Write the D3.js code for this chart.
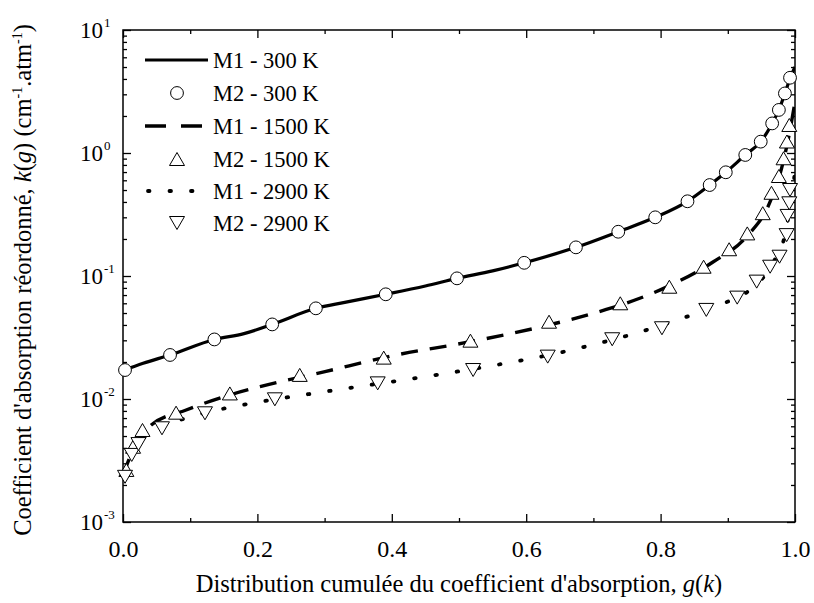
<!DOCTYPE html>
<html><head><meta charset="utf-8">
<script src="https://cdn.jsdelivr.net/npm/d3@7"></script>
<style>body{margin:0;background:#fff}svg{display:block}</style>
</head><body>
<svg id="c" width="814" height="603" font-family="'Liberation Serif', 'Times New Roman', Times, 'DejaVu Serif', serif"></svg>
<script>
// ---- data ----
const xTicks = [0.0, 0.2, 0.4, 0.6, 0.8, 1.0];
const yTicks = [1e-3, 1e-2, 1e-1, 1e0, 1e1];
const yExp = ["-3", "-2", "-1", "0", "1"];
const legendLabels = ["M1 - 300 K", "M2 - 300 K", "M1 - 1500 K", "M2 - 1500 K", "M1 - 2900 K", "M2 - 2900 K"];

const m1_300_g = [0, 0.03, 0.07, 0.136, 0.18, 0.222, 0.287, 0.33, 0.391, 0.45, 0.497, 0.55, 0.597, 0.674, 0.737, 0.792, 0.84, 0.873, 0.897, 0.926, 0.949, 0.966, 0.976, 0.985, 0.993, 1.0];
const m1_300_k = [0.0170, 0.0195, 0.0228, 0.0305, 0.0340, 0.0404, 0.0546, 0.0610, 0.0710, 0.0830, 0.0957, 0.110, 0.128, 0.171, 0.229, 0.300, 0.405, 0.549, 0.697, 0.964, 1.237, 1.74, 2.24, 3.05, 4.09, 5.0];

const m2_300_g = [0.003, 0.070, 0.136, 0.222, 0.287, 0.391, 0.497, 0.597, 0.674, 0.737, 0.792, 0.840, 0.873, 0.897, 0.926, 0.949, 0.966, 0.976, 0.985, 0.9926];
const m2_300_k = [0.0172, 0.0228, 0.0305, 0.0404, 0.0546, 0.0710, 0.0957, 0.128, 0.171, 0.229, 0.300, 0.405, 0.549, 0.697, 0.964, 1.237, 1.74, 2.24, 3.05, 4.09];

const m1_1500_g = [0, 0.015, 0.042, 0.094, 0.159, 0.204, 0.3006, 0.407, 0.509, 0.613, 0.717, 0.769, 0.826, 0.878, 0.928, 0.963, 0.98, 0.99, 1.0];
const m1_1500_k = [0.0024, 0.00385, 0.00615, 0.00814, 0.0108, 0.0126, 0.0167, 0.0228, 0.0287, 0.0376, 0.053, 0.0659, 0.090, 0.130, 0.209, 0.402, 0.75, 1.3, 2.6];

const m2_1500_g = [0.005, 0.015, 0.029, 0.079, 0.159, 0.263, 0.388, 0.517, 0.634, 0.740, 0.813, 0.864, 0.902, 0.929, 0.952, 0.965, 0.976, 0.983, 0.988, 0.9915];
const m2_1500_k = [0.00265, 0.00409, 0.0056, 0.00774, 0.0111, 0.0157, 0.0217, 0.0298, 0.0425, 0.060, 0.0818, 0.119, 0.165, 0.222, 0.324, 0.475, 0.65, 0.906, 1.24, 1.69];

const m1_2900_g = [0, 0.0074, 0.0397, 0.1016, 0.164, 0.196, 0.290, 0.416, 0.541, 0.667, 0.698, 0.759, 0.824, 0.854, 0.886, 0.93, 0.96, 0.972, 0.98, 0.99, 1.0];
const m1_2900_k = [0.0024, 0.00319, 0.00526, 0.00718, 0.00866, 0.00933, 0.01125, 0.01426, 0.0183, 0.0250, 0.0275, 0.0337, 0.0438, 0.0498, 0.058, 0.075, 0.11, 0.142, 0.17, 0.3, 0.7];

const m2_2900_g = [0.003, 0.013, 0.023, 0.058, 0.122, 0.226, 0.379, 0.521, 0.632, 0.728, 0.802, 0.868, 0.914, 0.943, 0.963, 0.977, 0.9876, 0.989, 0.9915, 0.9926];
const m2_2900_k = [0.00233, 0.00351, 0.0043, 0.00578, 0.00765, 0.00994, 0.0134, 0.0172, 0.0221, 0.0306, 0.0376, 0.053, 0.0667, 0.090, 0.119, 0.1435, 0.215, 0.308, 0.39, 0.50];

// ---- layout ----
const FONT = "'Liberation Serif', 'Times New Roman', Times, 'DejaVu Serif', serif";
const L = 123, R = 795, T = 30, B = 522;
const svg = d3.select("#c");
const x = d3.scaleLinear().domain([0, 1]).range([L, R]);
const y = d3.scaleLog().domain([1e-3, 1e1]).range([B, T]);

const zip = (gs, ks) => gs.map((g, i) => [g, ks[i]]);

svg.append("clipPath").attr("id", "clip").append("rect")
  .attr("x", L).attr("y", T).attr("width", R - L).attr("height", B - T);

const minorY = [];
for (let e = -3; e < 1; e++) for (let m = 2; m <= 9; m++) minorY.push(m * Math.pow(10, e));
const minorX = d3.range(0.1, 1, 0.2);

function styleAxis(g) {
  g.attr("font-family", FONT);
  g.select(".domain").remove();
  g.selectAll("line").attr("stroke", "#000").attr("stroke-width", 1.3);
}
// bottom
svg.append("g").attr("transform", `translate(0,${B})`)
  .call(d3.axisBottom(x).tickValues(xTicks).tickSize(-8).tickPadding(17).tickFormat(d3.format(".1f")))
  .call(styleAxis)
  .call(g => g.selectAll("text").attr("font-size", 24).attr("fill", "#000").attr("dy", null).attr("y", 35));
svg.append("g").attr("transform", `translate(0,${B})`)
  .call(d3.axisBottom(x).tickValues(minorX).tickSize(-4).tickFormat(""))
  .call(styleAxis);
// top
svg.append("g").attr("transform", `translate(0,${T})`)
  .call(d3.axisTop(x).tickValues(xTicks).tickSize(-8).tickFormat(""))
  .call(styleAxis);
svg.append("g").attr("transform", `translate(0,${T})`)
  .call(d3.axisTop(x).tickValues(minorX).tickSize(-4).tickFormat(""))
  .call(styleAxis);
// left
svg.append("g").attr("transform", `translate(${L},0)`)
  .call(d3.axisLeft(y).tickValues(yTicks).tickSize(-8).tickFormat(""))
  .call(styleAxis);
svg.append("g").attr("transform", `translate(${L},0)`)
  .call(d3.axisLeft(y).tickValues(minorY).tickSize(-4).tickFormat(""))
  .call(styleAxis);
// right
svg.append("g").attr("transform", `translate(${R},0)`)
  .call(d3.axisRight(y).tickValues(yTicks).tickSize(-8).tickFormat(""))
  .call(styleAxis);
svg.append("g").attr("transform", `translate(${R},0)`)
  .call(d3.axisRight(y).tickValues(minorY).tickSize(-4).tickFormat(""))
  .call(styleAxis);

// y tick labels 10^n
yTicks.forEach((v, i) => {
  svg.append("text").attr("x", 103).attr("y", y(v) + 8).attr("font-family", FONT)
    .attr("text-anchor", "end").attr("font-size", 23).text("10");
  svg.append("text").attr("x", 104).attr("y", y(v) - 3).attr("font-family", FONT)
    .attr("font-size", 13).text(yExp[i]);
});

// frame
svg.append("rect").attr("x", L).attr("y", T).attr("width", R - L).attr("height", B - T)
  .attr("fill", "none").attr("stroke", "#000").attr("stroke-width", 1.5);

// lines
const line = d3.line().x(d => x(d[0])).y(d => y(d[1])).curve(d3.curveMonotoneX);
const plot = svg.append("g").attr("clip-path", "url(#clip)");
const lineStyles = [
  {data: zip(m1_300_g, m1_300_k), dash: null, w: 3.2, cap: "butt"},
  {data: zip(m1_1500_g, m1_1500_k), dash: "17,12", w: 3.4, cap: "butt"},
  {data: zip(m1_2900_g, m1_2900_k), dash: "1.5,20", w: 3.8, cap: "round"}
];
lineStyles.forEach(s => {
  plot.append("path").attr("d", line(s.data)).attr("fill", "none")
    .attr("stroke", "#000").attr("stroke-width", s.w)
    .attr("stroke-dasharray", s.dash).attr("stroke-linecap", s.cap);
});

// markers
function circleM(g, cx, cy) {
  g.append("circle").attr("cx", cx).attr("cy", cy).attr("r", 6.4)
    .attr("fill", "#fff").attr("stroke", "#000").attr("stroke-width", 1);
}
function triM(g, cx, cy, up) {
  const w = 7.5, h = 6.5;
  const pts = up ? [[cx, cy - h], [cx + w, cy + h], [cx - w, cy + h]]
                 : [[cx, cy + h], [cx + w, cy - h], [cx - w, cy - h]];
  g.append("path").attr("d", "M" + pts.map(p => p.join(",")).join("L") + "Z")
    .attr("fill", "#fff").attr("stroke", "#000").attr("stroke-width", 1);
}
const mk = svg.append("g");
zip(m2_300_g, m2_300_k).forEach(d => circleM(mk, x(d[0]), y(d[1])));
zip(m2_1500_g, m2_1500_k).forEach(d => triM(mk, x(d[0]), y(d[1]), true));
zip(m2_2900_g, m2_2900_k).forEach(d => triM(mk, x(d[0]), y(d[1]), false));

// legend
const lg = svg.append("g").attr("font-family", FONT);
const rowY = [60, 93, 126, 159, 191, 223];
legendLabels.forEach((lab, i) => {
  const yy = rowY[i];
  if (i === 0) lg.append("line").attr("x1", 145).attr("x2", 208).attr("y1", yy).attr("y2", yy).attr("stroke", "#000").attr("stroke-width", 3.2);
  if (i === 2) lg.append("line").attr("x1", 145).attr("x2", 208).attr("y1", yy).attr("y2", yy).attr("stroke", "#000").attr("stroke-width", 3.4).attr("stroke-dasharray", "21,15");
  if (i === 4) lg.append("line").attr("x1", 148).attr("x2", 208).attr("y1", yy).attr("y2", yy).attr("stroke", "#000").attr("stroke-width", 3.8).attr("stroke-dasharray", "1.5,20").attr("stroke-linecap", "round");
  if (i === 1) circleM(lg, 177, yy);
  if (i === 3) triM(lg, 177, yy, true);
  if (i === 5) triM(lg, 177, yy, false);
  lg.append("text").attr("x", 213).attr("y", yy + 7.5).attr("font-size", 22.5).text(lab);
});

// axis titles
const xt = svg.append("text").attr("x", 459).attr("y", 592).attr("font-family", FONT).attr("text-anchor", "middle").attr("font-size", 24.5);
xt.append("tspan").text("Distribution cumulée du coefficient d'absorption, ");
xt.append("tspan").attr("font-style", "italic").text("g");
xt.append("tspan").text("(");
xt.append("tspan").attr("font-style", "italic").text("k");
xt.append("tspan").text(")");

const yt = svg.append("text").attr("transform", "translate(31,280) rotate(-90)").attr("font-family", FONT).attr("text-anchor", "middle").attr("font-size", 24.5);
yt.append("tspan").text("Coefficient d'absorption réordonné, ");
yt.append("tspan").attr("font-style", "italic").text("k");
yt.append("tspan").text("(");
yt.append("tspan").attr("font-style", "italic").text("g");
yt.append("tspan").text(") (cm");
yt.append("tspan").attr("font-size", 14).attr("dy", -9).text("-1");
yt.append("tspan").attr("dy", 9).text(".atm");
yt.append("tspan").attr("font-size", 14).attr("dy", -9).text("-1");
yt.append("tspan").attr("dy", 9).text(")");
</script>
</body></html>
